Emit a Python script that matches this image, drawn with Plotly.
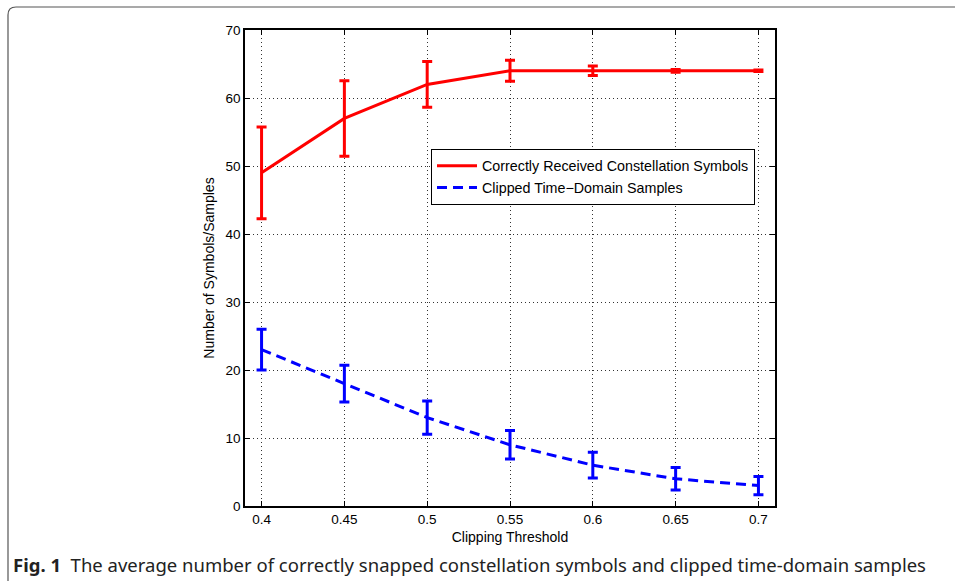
import plotly.graph_objects as go

thresholds = [0.4, 0.45, 0.5, 0.55, 0.6, 0.65, 0.7]
correct_symbols = [49.0, 57.0, 62.0, 64.0, 64.0, 64.0, 64.0]
correct_err = [6.75, 5.55, 3.35, 1.55, 0.7, 0.2, 0.1]
clipped_samples = [23.0, 18.0, 13.0, 9.0, 6.0, 4.0, 3.0]
clipped_err = [3.0, 2.7, 2.45, 2.1, 1.9, 1.65, 1.35]
x_ticks = [0.4, 0.45, 0.5, 0.55, 0.6, 0.65, 0.7]
x_tick_labels = ["0.4", "0.45", "0.5", "0.55", "0.6", "0.65", "0.7"]
y_ticks = [0, 10, 20, 30, 40, 50, 60, 70]

W, H = 955, 581
L, R, T, B = 245, 775, 30, 506

def px(x):
    return (x - L) / (R - L)

def py(y):
    return (B - y) / (B - T)

fig = go.Figure()
fig.add_trace(go.Scatter(
    x=thresholds, y=correct_symbols, mode="lines",
    name="Correctly Received Constellation Symbols",
    line=dict(color="#ff0000", width=3),
    error_y=dict(type="data", array=correct_err, visible=True,
                 color="#ff0000", thickness=3, width=5),
))
fig.add_trace(go.Scatter(
    x=thresholds, y=clipped_samples, mode="lines",
    name="Clipped Time\u2212Domain Samples",
    line=dict(color="#0000ff", width=3, dash="10px,6px"),
    error_y=dict(type="data", array=clipped_err, visible=True,
                 color="#0000ff", thickness=3, width=5),
))

FONT = "Liberation Sans, Arial"
axis_common = dict(
    showline=True, linecolor="black", linewidth=1.5, mirror="ticks",
    ticks="inside", ticklen=5, tickcolor="black", tickwidth=1,
    showgrid=True, gridcolor="#333333", gridwidth=1, griddash="1px,3px",
    zeroline=False,
    tickfont=dict(family=FONT, size=13.5, color="black"),
)

fig.update_xaxes(range=[0.39, 0.71], tickvals=x_ticks, ticktext=x_tick_labels,
                 title=dict(text="Clipping Threshold", standoff=6,
                            font=dict(family=FONT, size=14, color="black")),
                 **axis_common)
fig.update_yaxes(range=[0, 70], tickvals=y_ticks,
                 title=dict(text="Number of Symbols/Samples", standoff=8,
                            font=dict(family=FONT, size=14, color="black")),
                 **axis_common)

# rounded frame around the figure
x0, y0, r = 8, 7, 8
path = (f"M {px(x0)},{py(H + 5)} L {px(x0)},{py(y0 + r)} "
        f"Q {px(x0)},{py(y0)} {px(x0 + r)},{py(y0)} L {px(W + 5)},{py(y0)}")
fig.add_shape(type="path", xref="paper", yref="paper", path=path,
              line=dict(color="#555555", width=1.2), layer="above")

fig.add_annotation(
    xref="paper", yref="paper", x=px(11), y=py(564), xanchor="left", yanchor="middle",
    text="<b>Fig. 1</b>  The average number of correctly snapped constellation symbols and clipped time-domain samples",
    showarrow=False,
    font=dict(family="Noto Sans, Open Sans", size=18.5, color="#222222"),
)

fig.update_layout(
    width=W, height=H,
    margin=dict(l=L, r=W - R, t=T, b=H - B, pad=0),
    paper_bgcolor="white", plot_bgcolor="white",
    showlegend=True,
    legend=dict(x=px(431), y=py(149), xanchor="left", yanchor="top",
                bgcolor="white", bordercolor="black", borderwidth=1,
                font=dict(family=FONT, size=14.3, color="black"),
                tracegroupgap=0, itemwidth=40),
)

fig.write_html(
    "out.html",
    config={"displayModeBar": False},
    post_script="document.body.style.margin='0';document.body.style.overflow='hidden';",
)
